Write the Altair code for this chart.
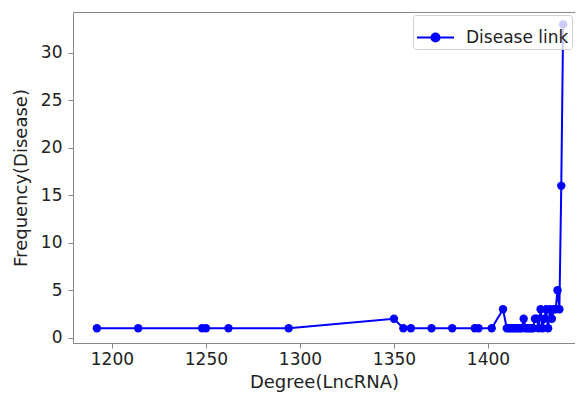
import altair as alt
import pandas as pd

degree = [1192, 1214, 1248, 1250, 1262, 1294, 1350, 1355, 1359, 1370, 1381,
          1393, 1395, 1402, 1408, 1410, 1411, 1412, 1413, 1414, 1415, 1416,
          1417, 1418, 1419, 1420, 1421, 1422, 1423, 1424, 1425, 1426, 1427,
          1428, 1429, 1430, 1431, 1432, 1433, 1434, 1435, 1436, 1437, 1438,
          1439, 1440]
frequency = [1, 1, 1, 1, 1, 1, 2, 1, 1, 1, 1,
             1, 1, 1, 3, 1, 1, 1, 1, 1, 1, 1,
             1, 1, 2, 1, 1, 1, 1, 1, 2, 2, 1,
             3, 1, 2, 3, 1, 3, 2, 3, 3, 5, 3,
             16, 33]
series = "Disease link"
x_ticks = [1200, 1250, 1300, 1350, 1400]
y_ticks = [0, 5, 10, 15, 20, 25, 30]

df = pd.DataFrame({"Degree": degree, "Frequency": frequency, "Series": [series] * len(degree)})

color = alt.Color("Series:N",
                  scale=alt.Scale(domain=[series], range=["#0000ff"]),
                  legend=alt.Legend(title=None, orient="top-right", offset=3,
                                    symbolType="M-1,0H1M-0.22,0a0.22,0.22 0 1,0 0.44,0a0.22,0.22 0 1,0 -0.44,0",
                                    symbolSize=1369, symbolStrokeWidth=2,
                                    symbolFillColor="#0000ff", symbolStrokeColor="#0000ff",
                                    labelFontSize=17, labelFont="DejaVu Sans", labelColor="#222",
                                    labelOffset=11,
                                    fillColor="rgba(255,255,255,0.8)", strokeColor="#d0d0d0",
                                    cornerRadius=3, padding=3))

x = alt.X("Degree:Q", title="Degree(LncRNA)",
          scale=alt.Scale(domain=[1179.3, 1446.3], nice=False, zero=False),
          axis=alt.Axis(values=x_ticks, format="d"))
y = alt.Y("Frequency:Q", title="Frequency(Disease)",
          scale=alt.Scale(domain=[-0.55, 34.3], nice=False, zero=False),
          axis=alt.Axis(values=y_ticks, format="d"))

base = alt.Chart(df)
line = base.mark_line(strokeWidth=2).encode(x=x, y=y, color=color)
pts = base.mark_point(filled=True, size=70, opacity=1, shape="circle").encode(
    x=x, y=y, color=alt.Color("Series:N", scale=alt.Scale(domain=[series], range=["#0000ff"]), legend=None))

chart = alt.layer(line, pts).properties(
    width=502, height=331,
    autosize=alt.AutoSizeParams(type="none"),
    padding={"left": 65, "top": 4, "right": 0, "bottom": 49},
).configure_view(stroke="#888", strokeWidth=1).configure_axis(
    grid=False, domainColor="#888", tickColor="#888", tickSize=5,
    labelFontSize=17, titleFontSize=18, labelFont="DejaVu Sans", titleFont="DejaVu Sans",
    labelColor="#222", titleColor="#222", titleFontWeight="normal",
).configure_axisX(titlePadding=6, labelPadding=3).configure_axisY(titlePadding=10, labelPadding=6)

chart.save("out.html", embed_options={"renderer": "svg", "actions": False})
